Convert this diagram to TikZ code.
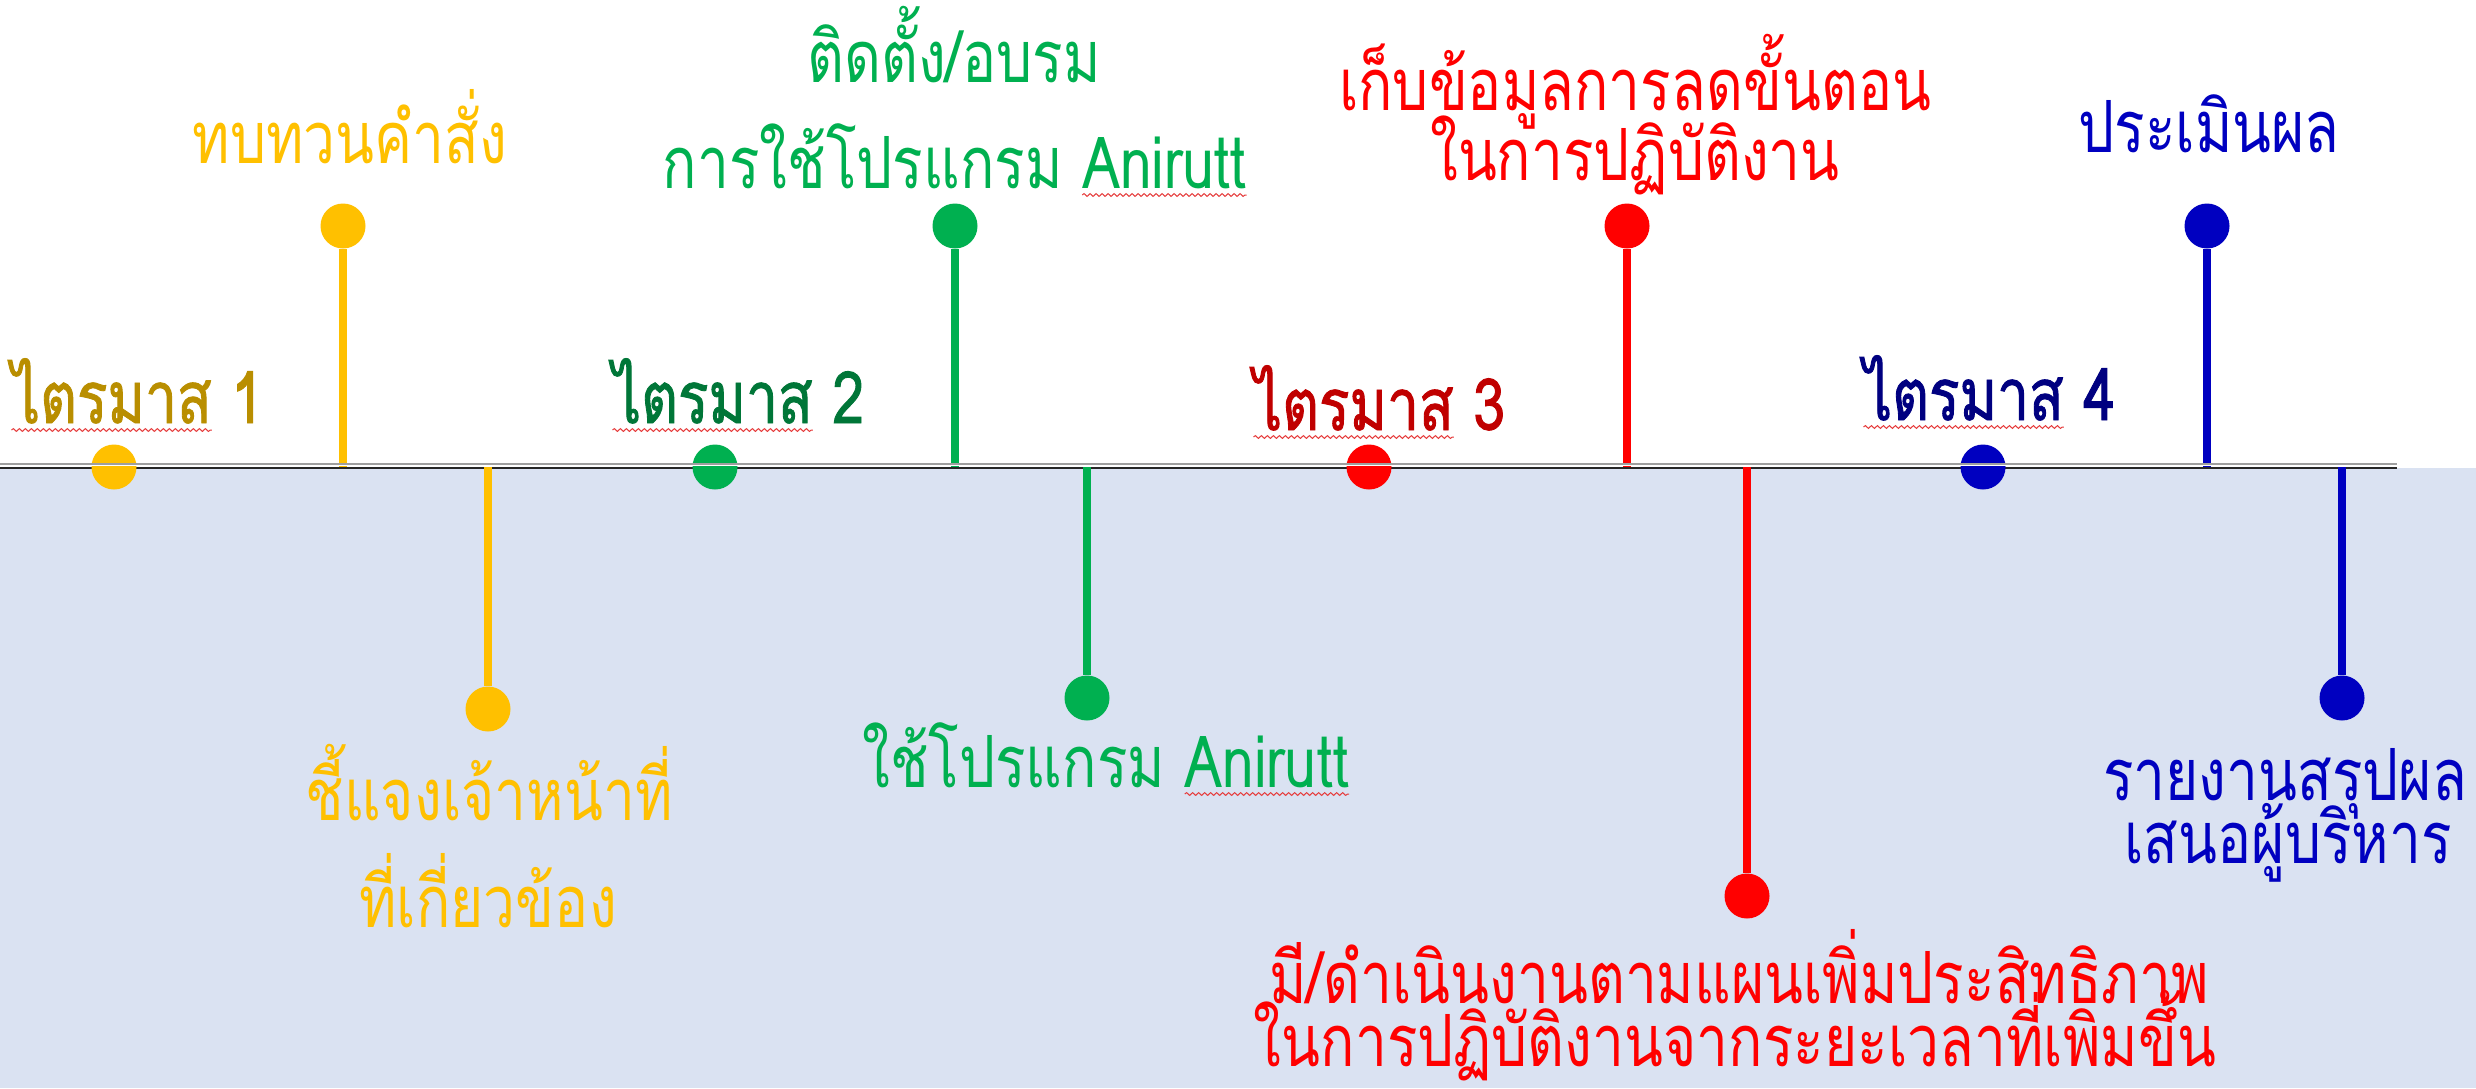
\documentclass[tikz,border=0pt]{standalone}
\usepackage{fontspec}
\newfontfamily\thaifont[Script=Thai,FakeStretch=0.79]{Loma}
\newfontfamily\thaiqfont[Script=Thai,FakeStretch=0.79,FakeBold=1.2]{Loma}
\usetikzlibrary{decorations.pathmorphing}
\definecolor{ylw}{HTML}{FFC000}
\definecolor{grn}{HTML}{00B050}
\definecolor{rd}{HTML}{FF0000}
\definecolor{blu}{HTML}{0000C0}
\definecolor{qone}{RGB}{185,142,0}
\definecolor{qtwo}{RGB}{0,118,56}
\definecolor{qthree}{RGB}{192,0,0}
\definecolor{qfour}{RGB}{0,0,128}
\definecolor{bg}{RGB}{218,226,242}
\definecolor{spell}{RGB}{230,60,60}
\newcommand{\sq}[1]{\tikz[baseline=(w.base)]{\node[inner sep=0pt,outer sep=0pt](w){#1};\draw[spell,line width=0.5pt,decorate,decoration={snake,amplitude=0.7pt,segment length=3pt}]([yshift=-3.5pt]w.base west)--([yshift=-3.5pt]w.base east);}}
\tikzset{
  dot/.style={circle,inner sep=0pt,minimum size=22.5pt,draw=none},
  stem/.style={line width=4.2pt},
  lbl/.style={inner sep=0pt,outer sep=0pt,anchor=base,font=\thaifont\fontsize{36}{40}\selectfont},
  qlbl/.style={inner sep=0pt,outer sep=0pt,anchor=base west,font=\thaiqfont\fontsize{36}{40}\selectfont}
}
\begin{document}
\begin{tikzpicture}[x=0.5pt,y=-0.5pt]
\useasboundingbox (0,0) rectangle (2476,1088);
\fill[white] (0,0) rectangle (2476,1088);
\fill[bg] (0,468) rectangle (2476,1088);
% axis
\coordinate (axL) at (0,467);
\coordinate (axR) at (2397,467);
\draw[black!85,line width=1pt] ([yshift=-0.5pt]axL) -- ([yshift=-0.5pt]axR);

% stems ends on axis
\foreach \n/\x in {a/343,c/955,e/1627,g/2207,b/488,d/1087,f/1747,h/2342}{\coordinate (\n0) at (\x,467);}

% up items
\node[dot,fill=ylw] (a) at (343,226) {};
\node[dot,fill=grn] (c) at (955,226) {};
\node[dot,fill=rd] (e) at (1627,226) {};
\node[dot,fill=blu] (g) at (2207,226) {};
% down items
\node[dot,fill=ylw] (b) at (488,709) {};
\node[dot,fill=grn] (d) at (1087,698) {};
\node[dot,fill=rd] (f) at (1747,896) {};
\node[dot,fill=blu] (h) at (2342,698) {};

\draw[stem,ylw] (a) -- (a0);
\draw[stem,grn] (c) -- (c0);
\draw[stem,rd] (e) -- (e0);
\draw[stem,blu] (g) -- (g0);
\draw[stem,ylw] (b0) -- (b);
\draw[stem,grn] (d0) -- (d);
\draw[stem,rd] (f0) -- (f);
\draw[stem,blu] (h0) -- (h);

% quarter dots
\node[dot,fill=ylw] (q1) at (114,467) {};
\node[dot,fill=grn] (q2) at (715,467) {};
\node[dot,fill=rd] (q3) at (1369,467) {};
\node[dot,fill=blu] (q4) at (1983,467) {};

% thin top edge of the axis, over the dots
\draw[gray!75,line width=0.8pt] ([yshift=1.6pt]axL) -- ([yshift=1.6pt]axR);
\draw[white,line width=0.5pt] ([yshift=0.7pt]axL) -- ([yshift=0.7pt]axR);

% quarter labels
\node[qlbl,text=qone] (q1t) at (11,423) {\sq{ไตรมาส} 1};
\node[qlbl,text=qtwo] (q2t) at (612,423) {\sq{ไตรมาส} 2};
\node[qlbl,text=qthree] (q3t) at (1253,430) {\sq{ไตรมาส} 3};
\node[qlbl,text=qfour] (q4t) at (1863,420) {\sq{ไตรมาส} 4};

% item labels
\node[lbl,text=ylw] (at) at (350,163) {ทบทวนคำสั่ง};
\node[lbl,text=ylw] (bt1) at (489,820) {ชี้แจงเจ้าหน้าที่};
\node[lbl,text=ylw] (bt2) at (488,927) {ที่เกี่ยวข้อง};
\node[lbl,text=grn] (ct1) at (954,82) {ติดตั้ง/อบรม};
\node[lbl,text=grn] (ct2) at (955,188) {การใช้โปรแกรม \sq{Anirutt}};
\node[lbl,text=grn] (dt) at (1106,787) {ใช้โปรแกรม \sq{Anirutt}};
\node[lbl,text=rd] (et1) at (1635,110) {เก็บข้อมูลการลดขั้นตอน};
\node[lbl,text=rd] (et2) at (1635,180) {ในการปฏิบัติงาน};
\node[lbl,text=rd] (ft1) at (1739,1003) {มี/ดำเนินงานตามแผนเพิ่มประสิทธิภาพ};
\node[lbl,text=rd] (ft2) at (1735,1066) {ในการปฏิบัติงานจากระยะเวลาที่เพิ่มขึ้น};
\node[lbl,text=blu] (gt) at (2209,152) {ประเมินผล};
\node[lbl,text=blu] (ht1) at (2285,800) {รายงานสรุปผล};
\node[lbl,text=blu] (ht2) at (2288,863) {เสนอผู้บริหาร};
\end{tikzpicture}
\end{document}
